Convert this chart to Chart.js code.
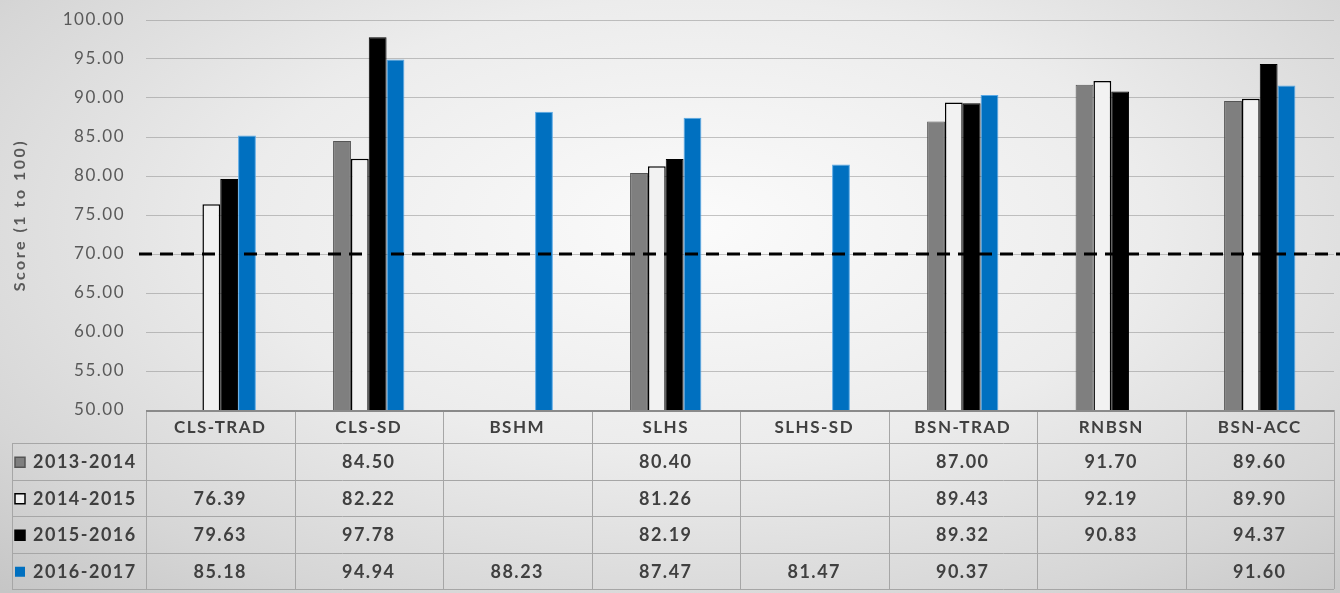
<!DOCTYPE html>
<html>
<head>
<meta charset="utf-8">
<script src="https://cdn.jsdelivr.net/npm/chart.js@4"></script>
<style>
  html, body { margin: 0; padding: 0; }
  body {
    width: 1340px;
    height: 593px;
    overflow: hidden;
    background: radial-gradient(ellipse 75% 85% at 52% 38%, #fbfbfb 0%, #ececec 45%, #d6d6d6 80%, #c6c6c6 100%);
  }
  #wrap { position: relative; width: 1340px; height: 593px; }
</style>
</head>
<body>
<div id="wrap"><canvas id="score-chart"></canvas></div>
<script>
// Programs (categories)
const programs = ['CLS-TRAD', 'CLS-SD', 'BSHM', 'SLHS', 'SLHS-SD', 'BSN-TRAD', 'RNBSN', 'BSN-ACC'];

// Series by academic year (null = no data)
const years = ['2013-2014', '2014-2015', '2015-2016', '2016-2017'];
const scores2013 = [null, 84.50, null, 80.40, null, 87.00, 91.70, 89.60];
const scores2014 = [76.39, 82.22, null, 81.26, null, 89.43, 92.19, 89.90];
const scores2015 = [79.63, 97.78, null, 82.19, null, 89.32, 90.83, 94.37];
const scores2016 = [85.18, 94.94, 88.23, 87.47, 81.47, 90.37, null, 91.60];

// Benchmark line
const benchmark = 70;

// Y axis range
const yMin = 50;
const yMax = 100;
const yStep = 5;
const yTitle = 'Score (1 to 100)';

const FONT = 'Lato, "Liberation Sans", sans-serif';
const TEXT_DARK = '#404040';
const TEXT_TICK = '#595959';
const TABLE_LINE = '#a6a6a6';

// series styles: fill, border
const seriesStyles = [
  { fill: '#7f7f7f', border: '#555555' },
  { fill: '#f2f2f2', border: '#000000' },
  { fill: '#000000', border: '#000000' },
  { fill: '#0070c0', border: '#5aa9e6' }
];

const seriesData = [scores2013, scores2014, scores2015, scores2016];

/**
 * Slightly wider text, closer to the Calibri look of the original
 */
const spacingPlugin = {
  id: 'letterSpacing',
  beforeLayout(chart) { chart.ctx.letterSpacing = '1.5px'; },
  beforeDraw(chart) { chart.ctx.letterSpacing = '1.5px'; }
};

/**
 * Rotated y axis title
 */
const yTitlePlugin = {
  id: 'yTitle',
  afterDraw(chart) {
    const ctx = chart.ctx;
    const area = chart.chartArea;
    ctx.save();
    ctx.translate(20, (area.top + area.bottom) / 2);
    ctx.rotate(-Math.PI / 2);
    ctx.letterSpacing = '2.5px';
    ctx.font = 'bold 16px ' + FONT;
    ctx.fillStyle = TEXT_TICK;
    ctx.textAlign = 'center';
    ctx.textBaseline = 'middle';
    ctx.fillText(yTitle, 0, 0);
    ctx.restore();
  }
};

/**
 * Dashed benchmark line across the plot
 */
const benchmarkPlugin = {
  id: 'benchmarkLine',
  afterDatasetsDraw(chart) {
    const ctx = chart.ctx;
    const y = chart.scales.y.getPixelForValue(benchmark);
    ctx.save();
    ctx.strokeStyle = '#000000';
    ctx.lineWidth = 3;
    ctx.setLineDash([13, 8]);
    ctx.beginPath();
    ctx.moveTo(chart.chartArea.left - 7, y);
    ctx.lineTo(chart.width, y);
    ctx.stroke();
    ctx.restore();
  }
};

/**
 * Data table under the x axis (Excel-style)
 */
const dataTablePlugin = {
  id: 'dataTable',
  afterDraw(chart) {
    const ctx = chart.ctx;
    const xs = chart.scales.x;
    const area = chart.chartArea;
    const colW = (area.right - area.left) / programs.length;
    const headerBottom = area.bottom + 33;
    const rowH = 36.5;
    const tableLeft = 12;
    const tableBottom = headerBottom + rowH * years.length;

    ctx.save();

    // horizontal lines
    ctx.strokeStyle = TABLE_LINE;
    ctx.lineWidth = 1;
    for (let r = 0; r <= years.length; r++) {
      const y = Math.round(headerBottom + r * rowH) + 0.5;
      ctx.beginPath();
      ctx.moveTo(tableLeft, y);
      ctx.lineTo(area.right, y);
      ctx.stroke();
    }

    // vertical lines
    for (let i = 0; i <= programs.length; i++) {
      const x = Math.round(area.left + i * colW) + 0.5;
      ctx.beginPath();
      ctx.moveTo(x, area.bottom);
      ctx.lineTo(x, tableBottom);
      ctx.stroke();
    }
    ctx.beginPath();
    ctx.moveTo(tableLeft + 0.5, headerBottom);
    ctx.lineTo(tableLeft + 0.5, tableBottom);
    ctx.stroke();

    // axis line on top of table
    ctx.strokeStyle = '#8a8a8a';
    ctx.lineWidth = 2;
    ctx.beginPath();
    ctx.moveTo(area.left, area.bottom + 1);
    ctx.lineTo(area.right, area.bottom + 1);
    ctx.stroke();

    // rows
    ctx.letterSpacing = '1.5px';
    ctx.font = 'bold 18px ' + FONT;
    ctx.textBaseline = 'middle';
    years.forEach((year, r) => {
      const cy = headerBottom + r * rowH + rowH / 2 + 1;
      const st = seriesStyles[r];

      // legend swatch
      ctx.fillStyle = st.fill;
      ctx.fillRect(15, cy - 5, 10, 10);
      if (r !== 3) {
        ctx.strokeStyle = st.border;
        ctx.lineWidth = 1.5;
        ctx.strokeRect(15, cy - 5, 10, 10);
      }

      ctx.fillStyle = TEXT_DARK;
      ctx.textAlign = 'left';
      ctx.fillText(year, 33, cy);

      ctx.textAlign = 'center';
      seriesData[r].forEach((v, i) => {
        if (v === null) return;
        ctx.fillText(v.toFixed(2), xs.getPixelForValue(i), cy);
      });
    });

    ctx.restore();
  }
};

const datasets = years.map((year, i) => ({
  label: year,
  data: seriesData[i],
  backgroundColor: seriesStyles[i].fill,
  borderColor: seriesStyles[i].border,
  borderWidth: i === 1 ? 1.5 : 1,
  categoryPercentage: 0.48,
  barPercentage: 1.0
}));

new Chart(document.getElementById('score-chart'), {
  type: 'bar',
  data: {
    labels: programs,
    datasets: datasets
  },
  options: {
    responsive: true,
    maintainAspectRatio: false,
    animation: false,
    layout: {
      padding: { top: 20, right: 6, bottom: 0, left: 0 }
    },
    plugins: {
      legend: { display: false },
      tooltip: { enabled: false }
    },
    scales: {
      x: {
        grid: { display: false, drawTicks: false },
        border: { display: false },
        ticks: {
          color: TEXT_DARK,
          padding: 7,
          maxRotation: 0,
          font: { family: FONT, size: 17, weight: 'bold' }
        },
        afterFit: (scale) => { scale.height = 183; }
      },
      y: {
        min: yMin,
        max: yMax,
        grid: {
          color: 'rgba(140, 140, 140, 0.5)',
          lineWidth: 1,
          drawTicks: true,
          tickLength: 21,
          tickColor: 'rgba(0, 0, 0, 0)'
        },
        border: { display: false },
        ticks: {
          stepSize: yStep,
          padding: 0,
          color: TEXT_TICK,
          font: { family: FONT, size: 17 },
          callback: (value) => value.toFixed(2)
        },
        afterFit: (scale) => { scale.width = 146; }
      }
    }
  },
  plugins: [spacingPlugin, benchmarkPlugin, dataTablePlugin, yTitlePlugin]
});
</script>
</body>
</html>
